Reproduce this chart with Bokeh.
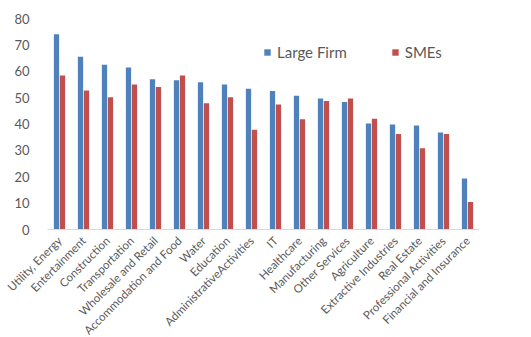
import math
from bokeh.plotting import figure
from bokeh.models import ColumnDataSource, FactorRange, Legend, LegendItem, FixedTicker
from bokeh.transform import dodge
from bokeh.embed import file_html
from bokeh.resources import INLINE

categories = ["Utility, Energy", "Entertainment", "Construction", "Transportation",
              "Wholesale and Retail", "Accommodation and Food", "Water", "Education",
              "AdministrativeActivities", "IT", "Healthcare", "Manufacturing",
              "Other Services", "Agriculture", "Extractive Industries", "Real Estate",
              "Professional Activities", "Financial and Insurance"]
large_firm = [74.0, 65.5, 62.5, 61.4, 57.0, 56.6, 55.8, 55.0, 53.4, 52.5, 50.7, 49.7,
              48.3, 40.2, 39.8, 39.4, 36.8, 19.3]
smes = [58.4, 52.7, 50.1, 55.0, 54.0, 58.4, 47.9, 50.1, 37.8, 47.4, 41.8, 48.7,
        49.7, 42.0, 36.2, 30.8, 36.2, 10.4]
y_ticks = [0, 10, 20, 30, 40, 50, 60, 70, 80]

BLUE = "#4F81BD"
RED = "#C0504D"
GREY = "#595959"
FONT = "Lato"

src = ColumnDataSource(dict(cat=categories, lf=large_firm, sm=smes))

p = figure(frame_width=432, frame_height=211, x_range=FactorRange(*categories), y_range=(0, 80),
           output_backend="svg", toolbar_location=None,
           min_border_left=47, min_border_right=52, min_border_top=18, min_border_bottom=0)
p.outline_line_color = None
p.xgrid.grid_line_color = None
p.ygrid.grid_line_color = None
p.x_range.range_padding = 0

r1 = p.vbar(x=dodge("cat", -0.125, range=p.x_range), top="lf", width=0.22, source=src,
            fill_color=BLUE, line_color=None)
r2 = p.vbar(x=dodge("cat", 0.125, range=p.x_range), top="sm", width=0.22, source=src,
            fill_color=RED, line_color=None)

p.yaxis.ticker = FixedTicker(ticks=y_ticks)
p.yaxis.axis_line_color = None
p.yaxis.major_tick_line_color = None
p.yaxis.minor_tick_line_color = None
p.yaxis.major_label_text_font = FONT
p.yaxis.major_label_text_font_size = "13px"
p.yaxis.major_label_text_color = GREY
p.yaxis.major_label_standoff = 12

p.xaxis.axis_line_color = "#D9D9D9"
p.xaxis.major_tick_line_color = None
p.xaxis.minor_tick_line_color = None
p.xaxis.major_label_orientation = math.pi / 4
p.xaxis.major_label_text_font = FONT
p.xaxis.major_label_text_font_size = "11.5px"
p.xaxis.major_label_text_color = GREY
p.xaxis.major_label_standoff = 3

legend = Legend(items=[LegendItem(label="Large Firm", renderers=[r1]),
                       LegendItem(label="SMEs", renderers=[r2])],
                orientation="horizontal", location=(216, 168))
legend.border_line_color = None
legend.background_fill_alpha = 0
legend.label_text_font = FONT
legend.label_text_font_size = "15px"
legend.label_text_color = GREY
legend.glyph_width = 8
legend.glyph_height = 8
legend.label_standoff = 6
legend.spacing = 44
legend.padding = 0
legend.margin = 0
p.add_layout(legend, "center")

open("out.html", "w").write(file_html(p, INLINE))
